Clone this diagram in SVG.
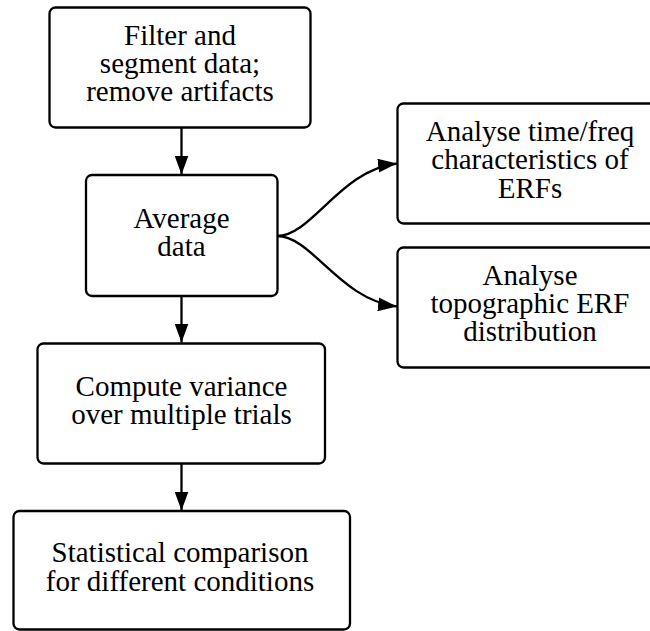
<svg xmlns="http://www.w3.org/2000/svg" width="650" height="631" viewBox="0 0 650 631">
  <defs>
    <marker id="arrow" viewBox="0 0 19 14" refX="19" refY="7" markerWidth="19" markerHeight="14" markerUnits="userSpaceOnUse" orient="auto">
      <path d="M0,0 L19,7 L0,14 Z" fill="#000"/>
    </marker>
    <style>
      .box { fill: #fff; stroke: #000; stroke-width: 2.3; }
      .lbl { font-family: "Liberation Serif", "Times New Roman", serif; font-size: 29px; fill: #000; text-anchor: middle; }
      .edge { fill: none; stroke: #000; stroke-width: 2.3; marker-end: url(#arrow); }
    </style>
  </defs>
  <rect width="650" height="631" fill="#fff"/>

  <g id="edges">
    <path class="edge" d="M181.5,127.5 L181.5,174.5"/>
    <path class="edge" d="M181.5,296 L181.5,342.5"/>
    <path class="edge" d="M181.5,463.5 L181.5,510.5"/>
    <path class="edge" d="M277,236 C312,236 340,170 397,163.5"/>
    <path class="edge" d="M277,236 C312,236 340,300 397,306.5"/>
  </g>

  <g id="filter">
    <rect class="box" x="49.5" y="7.5" width="261" height="120" rx="6"/>
    <text class="lbl" x="180" y="44.5">Filter and</text>
    <text class="lbl" x="180" y="72.5">segment data;</text>
    <text class="lbl" x="180" y="100.5">remove artifacts</text>
  </g>

  <g id="average">
    <rect class="box" x="86" y="175" width="191.5" height="121" rx="6"/>
    <text class="lbl" x="181.5" y="227.5">Average</text>
    <text class="lbl" x="181.5" y="255.5">data</text>
  </g>

  <g id="timefreq">
    <rect class="box" x="397.5" y="103.5" width="266" height="120" rx="6"/>
    <text class="lbl" x="530" y="140.5">Analyse time/freq</text>
    <text class="lbl" x="530" y="169">characteristics of</text>
    <text class="lbl" x="530" y="197.5">ERFs</text>
  </g>

  <g id="topography">
    <rect class="box" x="397.5" y="247.5" width="266" height="120" rx="6"/>
    <text class="lbl" x="530" y="284.5">Analyse</text>
    <text class="lbl" x="530" y="312.5">topographic ERF</text>
    <text class="lbl" x="530" y="340.5">distribution</text>
  </g>

  <g id="variance">
    <rect class="box" x="37.5" y="343.5" width="287.5" height="120" rx="6"/>
    <text class="lbl" x="181.5" y="396">Compute variance</text>
    <text class="lbl" x="181.5" y="424">over multiple trials</text>
  </g>

  <g id="statistics">
    <rect class="box" x="13.5" y="511" width="336.5" height="118.5" rx="6"/>
    <text class="lbl" x="180" y="562">Statistical comparison</text>
    <text class="lbl" x="180" y="590.5">for different conditions</text>
  </g>
</svg>
